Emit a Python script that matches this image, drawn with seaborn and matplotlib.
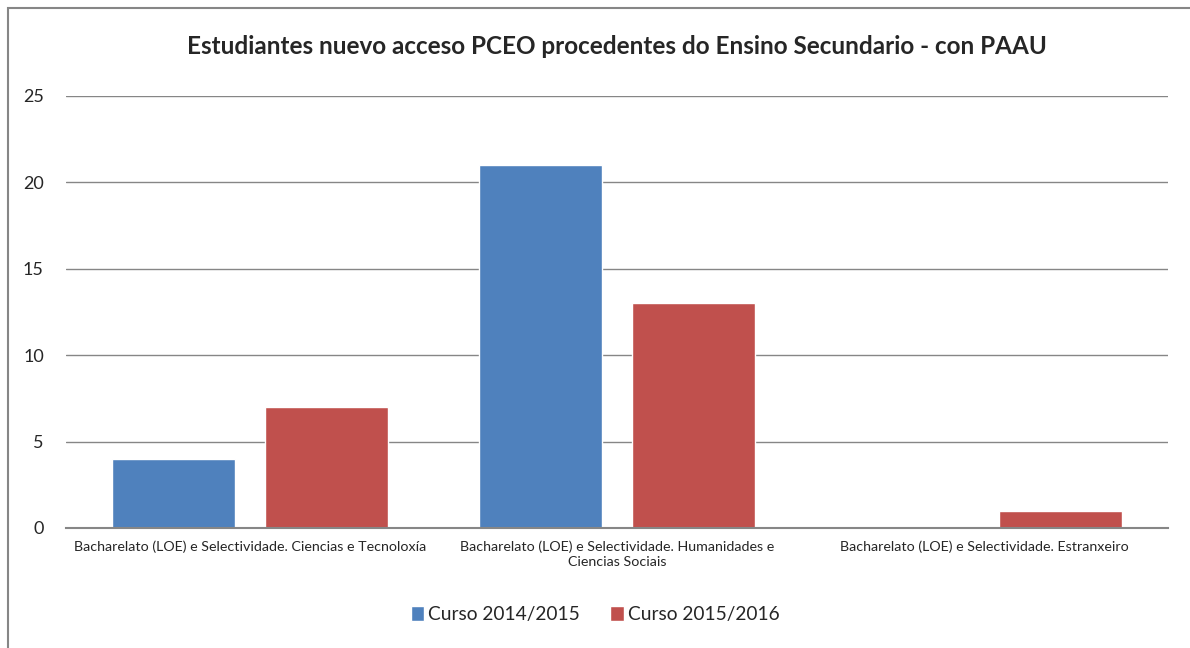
import textwrap

import matplotlib
matplotlib.use("Agg")
import matplotlib.pyplot as plt
from matplotlib.patches import Rectangle
import pandas as pd
import seaborn as sns

# chart values
categories = [
    "Bacharelato (LOE) e Selectividade. Ciencias e Tecnoloxía",
    "Bacharelato (LOE) e Selectividade. Humanidades e Ciencias Sociais",
    "Bacharelato (LOE) e Selectividade. Estranxeiro",
]
series_names = ["Curso 2014/2015", "Curso 2015/2016"]
curso_2014 = [4, 21, 0]
curso_2015 = [7, 13, 1]
colors = ["#4F81BD", "#C0504D"]
y_ticks = [0, 5, 10, 15, 20, 25]
title = "Estudiantes nuevo acceso PCEO procedentes do Ensino Secundario - con PAAU"

# long format for seaborn
df = pd.DataFrame({
    "Categoria": categories * 2,
    "Curso": [series_names[0]] * 3 + [series_names[1]] * 3,
    "Valor": curso_2014 + curso_2015,
})

sns.set_style("white")
plt.rcParams["font.family"] = ["Lato", "DejaVu Sans"]

fig = plt.figure(figsize=(11.9, 6.48), dpi=100)
ax = fig.add_axes([0.0555, 0.1852, 0.926, 0.6667])

sns.barplot(df, x="Categoria", y="Valor", hue="Curso", order=categories,
            hue_order=series_names, palette=colors, width=0.834, gap=0.196,
            saturation=1, ax=ax, legend=True)

ax.set_ylim(0, 25)
ax.set_yticks(y_ticks)
ax.set_xlabel("")
ax.set_ylabel("")
ax.grid(axis="y", color="#868686", linewidth=1)
ax.set_axisbelow(True)
for side in ["left", "right", "top"]:
    ax.spines[side].set_visible(False)
ax.spines["bottom"].set_color("#868686")
ax.spines["bottom"].set_linewidth(1.5)
ax.tick_params(axis="both", length=0)
ax.tick_params(axis="y", labelsize=13, pad=16)
ax.tick_params(axis="x", labelsize=10.3, pad=9)

# only the long middle label wraps in the original
labels = [textwrap.fill(c, 48) if len(c) > 60 else c for c in categories]
ax.set_xticks(range(len(categories)))
ax.set_xticklabels(labels, linespacing=1.25)

ax.set_title(title, fontsize=17.5, fontweight="bold", pad=30)

# legend at the bottom
handles, lbls = ax.get_legend_handles_labels()
ax.legend_.remove()
fig.legend(handles, lbls, loc="center", bbox_to_anchor=(0.5, 0.052), ncol=2,
           frameon=False, fontsize=13.8, handlelength=0.7, handleheight=0.9,
           handletextpad=0.2, columnspacing=1.6)

# outer chart border
fig.patches.append(Rectangle((0.0067, -0.05), 1.1, 0.9877 + 0.05,
                             transform=fig.transFigure, fill=False,
                             edgecolor="#868686", linewidth=1.5))

fig.savefig("out.png", dpi=100)
